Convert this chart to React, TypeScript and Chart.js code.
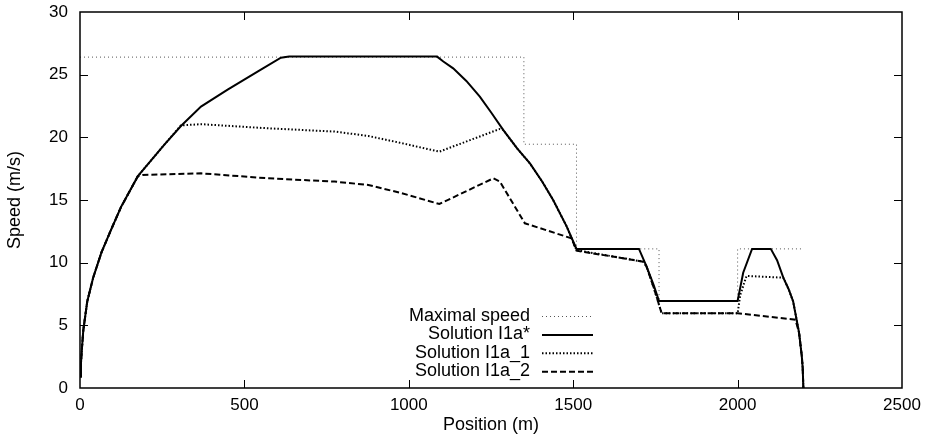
import React, { useEffect, useRef } from 'react';
import { Chart, registerables } from 'chart.js';

Chart.register(...registerables);

// Axis ticks
const xTickValues = [0, 500, 1000, 1500, 2000, 2500];
const yTickValues = [0, 5, 10, 15, 20, 25, 30];

// Maximal speed (step profile)
const maxSpeedX = [0, 1350, 1350, 1510, 1510, 1761, 1761, 2000, 2000, 2200];
const maxSpeedY = [26.4, 26.4, 19.45, 19.45, 11.1, 11.1, 6.94, 6.94, 11.1, 11.1];

// Solution I1a*
const solStarX = [0, 3, 6, 10, 22, 40, 65, 94, 125, 176, 256, 307, 368, 449, 540, 611, 636, 1086, 1105, 1135, 1175, 1216, 1250, 1287, 1330, 1369, 1405, 1439, 1480, 1510, 1700, 1723, 1745, 1761, 2000, 2017, 2044, 2101, 2120, 2139, 2155, 2169, 2187, 2195, 2198, 2200];
const solStarY = [0.9, 2.0, 3.2, 4.6, 6.9, 8.8, 10.8, 12.6, 14.45, 16.9, 19.4, 20.9, 22.45, 23.8, 25.25, 26.35, 26.44, 26.44, 26.05, 25.5, 24.5, 23.25, 22.0, 20.6, 19.1, 17.9, 16.5, 15.0, 12.9, 11.1, 11.1, 9.7, 8.2, 6.94, 6.94, 9.2, 11.1, 11.1, 10.2, 8.8, 7.9, 6.9, 4.4, 2.6, 1.6, 0];

// Solution I1a_1
const sol1X = [0, 3, 6, 10, 22, 40, 65, 94, 125, 176, 256, 307, 368, 572, 774, 877, 979, 1093, 1277, 1287, 1330, 1369, 1405, 1439, 1480, 1510, 1713, 1723, 1745, 1769, 2000, 2008, 2027, 2139, 2155, 2169, 2187, 2195, 2198, 2200];
const sol1Y = [0.9, 2.0, 3.2, 4.6, 6.9, 8.8, 10.8, 12.6, 14.45, 16.9, 19.4, 20.95, 21.05, 20.72, 20.46, 20.11, 19.53, 18.86, 20.67, 20.6, 19.1, 17.9, 16.5, 15.0, 12.9, 11.0, 10.08, 9.7, 8.0, 5.96, 5.96, 7.4, 8.94, 8.8, 7.9, 6.9, 4.4, 2.6, 1.6, 0];

// Solution I1a_2
const sol2X = [0, 3, 6, 10, 22, 40, 65, 94, 125, 176, 190, 368, 572, 774, 877, 979, 1093, 1257, 1277, 1353, 1495, 1510, 1713, 1723, 1745, 1769, 2000, 2176, 2187, 2195, 2198, 2200];
const sol2Y = [0.9, 2.0, 3.2, 4.6, 6.9, 8.8, 10.8, 12.6, 14.45, 16.9, 17.0, 17.13, 16.73, 16.47, 16.2, 15.54, 14.68, 16.73, 16.47, 13.14, 11.94, 10.96, 10.08, 9.7, 8.0, 5.96, 5.96, 5.45, 4.4, 2.6, 1.6, 0];

const legendLabels = ['Maximal speed', 'Solution I1a*', 'Solution I1a_1', 'Solution I1a_2'];

const FONT = "'Liberation Sans', Arial, Helvetica, sans-serif";

const framePlugin = {
  id: 'frame',
  afterDraw(chart: any) {
    const { ctx, chartArea: a } = chart;
    const xs = chart.scales.x;
    const ys = chart.scales.y;
    ctx.save();
    ctx.strokeStyle = '#000';
    ctx.lineWidth = 1;
    const tl = 8;
    ctx.beginPath();
    for (const v of xTickValues) {
      const px = Math.round(xs.getPixelForValue(v)) + 0.5;
      if (v === xTickValues[0] || v === xTickValues[xTickValues.length - 1]) continue;
      ctx.moveTo(px, a.bottom);
      ctx.lineTo(px, a.bottom - tl);
      ctx.moveTo(px, a.top);
      ctx.lineTo(px, a.top + tl);
    }
    for (const v of yTickValues) {
      const py = Math.round(ys.getPixelForValue(v)) + 0.5;
      if (v === yTickValues[0] || v === yTickValues[yTickValues.length - 1]) continue;
      ctx.moveTo(a.left, py);
      ctx.lineTo(a.left + tl, py);
      ctx.moveTo(a.right, py);
      ctx.lineTo(a.right - tl, py);
    }
    ctx.stroke();
    ctx.lineWidth = 1.5;
    ctx.strokeRect(a.left, a.top, a.right - a.left, a.bottom - a.top);
    ctx.restore();
  },
};

const legendPlugin = {
  id: 'customLegend',
  afterDraw(chart: any) {
    const { ctx } = chart;
    const xs = chart.scales.x;
    const ys = chart.scales.y;
    ctx.save();
    ctx.font = `18px ${FONT}`;
    ctx.fillStyle = '#000';
    ctx.textAlign = 'right';
    ctx.textBaseline = 'middle';
    const textRight = xs.left + 450;
    const lineStart = textRight + 12;
    const lineEnd = textRight + 63;
    const firstRow = ys.top + 304;
    const rowH = 18.4;
    chart.data.datasets.forEach((ds: any, i: number) => {
      const y = firstRow + i * rowH;
      ctx.fillText(legendLabels[i], textRight, y);
      ctx.save();
      ctx.strokeStyle = ds.borderColor;
      ctx.lineWidth = ds.borderWidth;
      ctx.setLineDash(ds.borderDash || []);
      ctx.beginPath();
      ctx.moveTo(lineStart, y + 0.5);
      ctx.lineTo(lineEnd, y + 0.5);
      ctx.stroke();
      ctx.restore();
    });
    ctx.restore();
  },
};

const pts = (xs: number[], ys: number[]) => xs.map((x, i) => ({ x, y: ys[i] }));

export default function App() {
  const ref = useRef<HTMLCanvasElement>(null);
  useEffect(() => {
    const canvas = ref.current;
    if (!canvas) return;
    Chart.defaults.font.family = FONT;
    const chart = new Chart(canvas, {
      type: 'scatter',
      data: {
        datasets: [
          {
            label: legendLabels[0],
            data: pts(maxSpeedX, maxSpeedY),
            showLine: true,
            borderColor: '#555',
            borderWidth: 1,
            borderDash: [1, 3],
            pointRadius: 0,
            order: 3,
          },
          {
            label: legendLabels[1],
            data: pts(solStarX, solStarY),
            showLine: true,
            borderColor: '#000',
            borderWidth: 2,
            pointRadius: 0,
            order: 0,
          },
          {
            label: legendLabels[2],
            data: pts(sol1X, sol1Y),
            showLine: true,
            borderColor: '#000',
            borderWidth: 2,
            borderDash: [1.5, 2],
            pointRadius: 0,
            order: 2,
          },
          {
            label: legendLabels[3],
            data: pts(sol2X, sol2Y),
            showLine: true,
            borderColor: '#000',
            borderWidth: 2,
            borderDash: [6, 3],
            pointRadius: 0,
            order: 1,
          },
        ] as any,
      },
      options: {
        responsive: false,
        animation: false,
        layout: { padding: { left: 0, right: 25, top: 12, bottom: 0 } },
        plugins: { legend: { display: false }, tooltip: { enabled: false } },
        scales: {
          x: {
            type: 'linear',
            min: 0,
            max: 2500,
            afterFit: (s: any) => {
              s.height = 60;
              s.paddingLeft = 0;
              s.paddingRight = 0;
              s.paddingTop = 0;
              s.paddingBottom = 0;
            },
            afterBuildTicks: (s: any) => {
              s.ticks = xTickValues.map((v) => ({ value: v }));
            },
            ticks: {
              color: '#000',
              font: { size: 17, family: FONT },
              padding: 7,
              maxRotation: 0,
              autoSkip: false,
              callback: (v: any) => String(v),
            },
            grid: { display: false, drawTicks: false },
            border: { display: false },
            title: {
              display: true,
              text: 'Position (m)',
              color: '#000',
              font: { size: 18, family: FONT },
              padding: { top: 0, bottom: 12 },
            },
          },
          y: {
            type: 'linear',
            min: 0,
            max: 30,
            afterFit: (s: any) => {
              s.width = 80;
              s.paddingLeft = 0;
              s.paddingRight = 0;
              s.paddingTop = 0;
              s.paddingBottom = 0;
            },
            afterBuildTicks: (s: any) => {
              s.ticks = yTickValues.map((v) => ({ value: v }));
            },
            ticks: {
              color: '#000',
              font: { size: 17, family: FONT },
              padding: 12,
              autoSkip: false,
              callback: (v: any) => String(v),
            },
            grid: { display: false, drawTicks: false },
            border: { display: false },
            title: {
              display: true,
              text: 'Speed (m/s)',
              color: '#000',
              font: { size: 18, family: FONT },
              padding: { top: 4, bottom: 0 },
            },
          },
        },
      } as any,
      plugins: [framePlugin, legendPlugin],
    });
    return () => chart.destroy();
  }, []);
  return (
    <div style={{ position: 'fixed', left: 0, top: 0, width: 927, height: 448, background: '#fff' }}>
      <canvas ref={ref} width={927} height={448} style={{ display: 'block' }} />
    </div>
  );
}
